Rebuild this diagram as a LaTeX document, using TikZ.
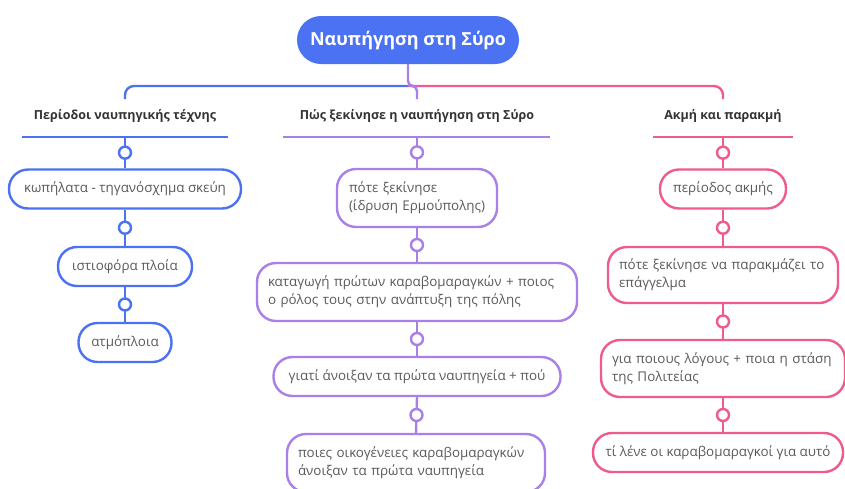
\documentclass[tikz,border=0pt]{standalone}
\usepackage{fontspec}
\setmainfont{Open Sans}
\usetikzlibrary{positioning}
\definecolor{blueb}{HTML}{4A72F2}
\definecolor{purpb}{HTML}{A97FE8}
\definecolor{pinkb}{HTML}{EF5B8D}
\definecolor{textg}{HTML}{5A5A5A}
\definecolor{headg}{HTML}{333333}

\begin{document}
\begin{tikzpicture}[x=1pt,y=-1pt,
  topic/.style={draw=#1, line width=2.4pt, fill=white, rounded corners=19pt,
    text=textg, font=\fontsize{13.4}{18}\selectfont, inner xsep=0pt, minimum height=39pt},
  knob/.style={circle, draw=#1, line width=2.4pt, fill=white, inner sep=0pt, minimum size=12pt},
  link/.style={draw=#1, line width=2.4pt},
  heading/.style={text=headg, font=\bfseries\fontsize{12.5}{15}\selectfont}]
\useasboundingbox (0,0) rectangle (845,488);

% root and the three branches
\node [fill=blueb, rounded corners=24pt, minimum width=222pt, minimum height=48pt,
  text=white, font=\bfseries\fontsize{18}{22}\selectfont] (root) at (408,40) {Ναυπήγηση στη Σύρο};
\coordinate (jn) at (408,86);
\coordinate (hA) at (125,99);
\coordinate (hB) at (417,99);
\coordinate (hC) at (723,99);
\draw [link=blueb, rounded corners=9pt] (jn) -| (hA);
\draw [link=pinkb, rounded corners=9pt] (jn) -| (hC);
\draw [link=purpb, rounded corners=5pt] (root.south) -- (jn) -- (417,86) -- (hB);

\node [heading] (headA) at (125,116) {Περίοδοι ναυπηγικής τέχνης};
\node [heading] (headB) at (417,116) {Πώς ξεκίνησε η ναυπήγηση στη Σύρο};
\node [heading] (headC) at (723,116) {Ακμή και παρακμή};
\draw [link=blueb] (22,137) -- (228,137);
\draw [link=purpb] (283,137) -- (550,137);
\draw [link=pinkb] (653,137) -- (793,137);
\coordinate (barA) at (125,137);
\coordinate (barB) at (417,137);
\coordinate (barC) at (723,137);

% left column
\node [topic=blueb, minimum width=232pt] (A1) at (125,189) {κωπήλατα - τηγανόσχημα σκεύη};
\node [topic=blueb, minimum width=134pt] (A2) at (125,266.5) {ιστιοφόρα πλοία};
\node [topic=blueb, minimum width=93pt] (A3) at (125,342.5) {ατμόπλοια};
\draw [link=blueb] (barA) -- node [knob=blueb] {} (A1.north);
\draw [link=blueb] (A1.south) -- node [knob=blueb] {} (A2.north);
\draw [link=blueb] (A2.south) -- node [knob=blueb] {} (A3.north);

% middle column
\node [topic=purpb, minimum width=160pt, minimum height=58pt, text width=136pt, align=left]
  (B1) at (417,198) {\mbox{πότε ξεκίνησε}\\\mbox{(ίδρυση Ερμούπολης)}};
\node [topic=purpb, minimum width=320pt, minimum height=58pt, text width=298pt, align=left]
  (B2) at (417,292) {\mbox{καταγωγή πρώτων καραβομαραγκών + ποιος}\\\mbox{ο ρόλος τους στην ανάπτυξη της πόλης}};
\node [topic=purpb, minimum width=287pt] (B3) at (417,376.5) {γιατί άνοιξαν τα πρώτα ναυπηγεία + πού};
\node [topic=purpb, minimum width=258pt, minimum height=58pt, text width=236pt, align=left]
  (B4) at (416,463) {\mbox{ποιες οικογένειες καραβομαραγκών}\\\mbox{άνοιξαν τα πρώτα ναυπηγεία}};
\draw [link=purpb] (barB) -- node [knob=purpb] {} (B1.north);
\draw [link=purpb] (B1.south) -- node [knob=purpb] {} (B2.north);
\draw [link=purpb] (B2.south) -- node [knob=purpb] {} (B3.north);
\draw [link=purpb] (B3.south) -- node [knob=purpb] {} (B4.north);

% right column
\node [topic=pinkb, minimum width=126pt] (C1) at (723,189) {περίοδος ακμής};
\node [topic=pinkb, minimum width=230pt, minimum height=56pt, text width=208pt, align=left]
  (C2) at (723,275) {\mbox{πότε ξεκίνησε να παρακμάζει το}\\\mbox{επάγγελμα}};
\node [topic=pinkb, minimum width=244pt, minimum height=57pt, text width=222pt, align=left]
  (C3) at (723,368.5) {\mbox{για ποιους λόγους + ποια η στάση}\\\mbox{της Πολιτείας}};
\node [topic=pinkb, minimum width=250pt] (C4) at (718,452.5) {τί λένε οι καραβομαραγκοί για αυτό};
\draw [link=pinkb] (barC) -- node [knob=pinkb] {} (C1.north);
\draw [link=pinkb] (C1.south) -- node [knob=pinkb] {} (C2.north);
\draw [link=pinkb] (C2.south) -- node [knob=pinkb] {} (C3.north);
\draw [link=pinkb] (C3.south) -- node [knob=pinkb] {} (C3.south |- C4.north);
\end{tikzpicture}
\end{document}
